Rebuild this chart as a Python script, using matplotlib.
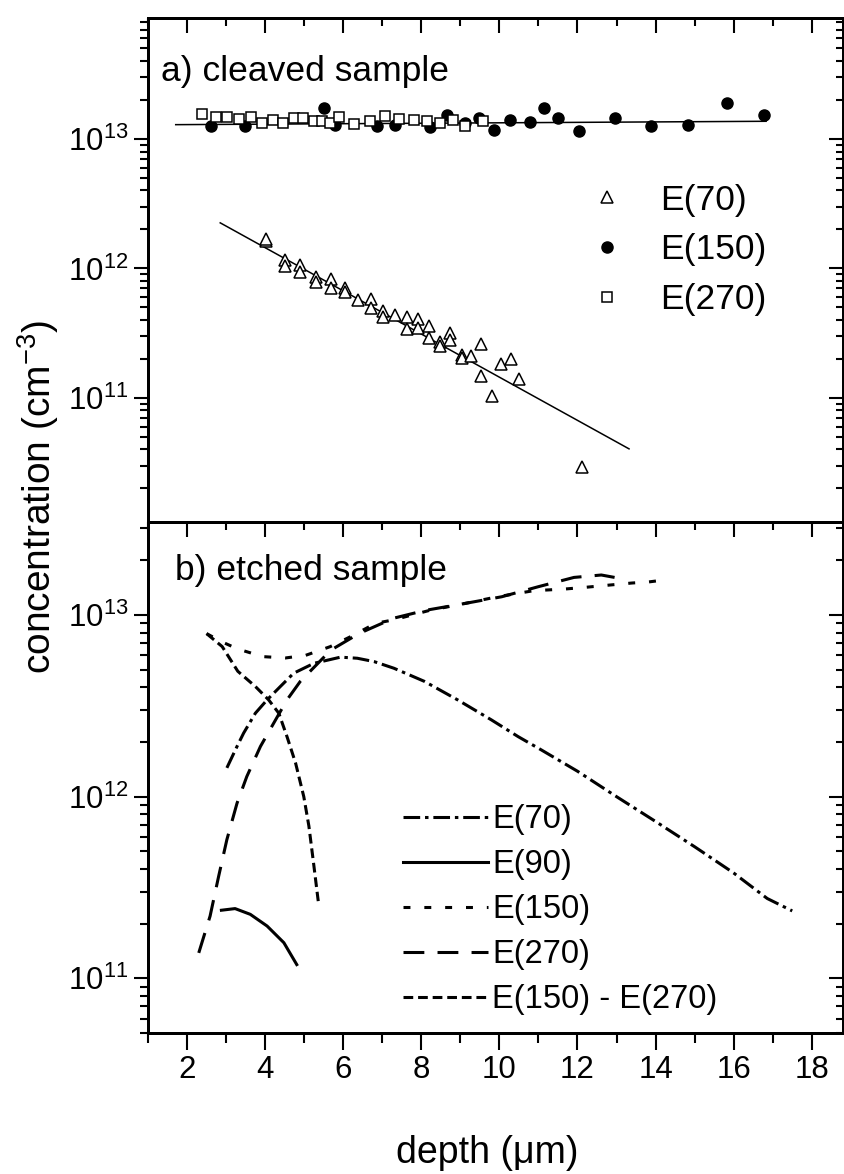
import matplotlib
matplotlib.use('Agg')
import matplotlib.pyplot as plt
import numpy as np
from matplotlib.ticker import LogLocator, NullFormatter, MultipleLocator

plt.rcParams['font.family'] = ['Liberation Sans', 'DejaVu Sans']
plt.rcParams['mathtext.fontset'] = 'custom'
plt.rcParams['mathtext.rm'] = 'Liberation Sans'
plt.rcParams['mathtext.it'] = 'Liberation Sans:italic'
plt.rcParams['lines.scale_dashes'] = False

# ---- a) cleaved sample: DLTS points ----
e70_x = [4.02, 4.02, 4.50, 4.50, 4.90, 4.90, 5.31, 5.31, 5.69, 5.69, 6.05, 6.05,
         6.39, 6.72, 6.72, 7.03, 7.03, 7.33, 7.63, 7.63, 7.91, 7.91, 8.20, 8.20,
         8.49, 8.49, 8.74, 8.74, 9.04, 9.04, 9.28, 9.54, 9.54, 9.81, 10.03, 10.29,
         10.50, 12.12]
e70_y = [1.64e12, 1.70e12, 1.17e12, 1.05e12, 1.07e12, 9.33e11, 8.6e11, 7.9e11,
         8.3e11, 7.07e11, 7.07e11, 6.6e11, 5.7e11, 5.85e11, 4.95e11, 4.67e11,
         4.22e11, 4.4e11, 4.22e11, 3.41e11, 4.07e11, 3.47e11, 3.61e11, 2.9e11,
         2.69e11, 2.5e11, 3.18e11, 2.82e11, 2.16e11, 2.04e11, 2.12e11, 2.62e11,
         1.47e11, 1.03e11, 1.83e11, 2.0e11, 1.40e11, 2.93e10]

e150_x = [2.62, 3.48, 5.51, 5.79, 6.86, 7.33, 8.21, 8.65, 9.11, 9.48, 9.87,
          10.26, 10.79, 11.13, 11.50, 12.03, 12.95, 13.89, 14.82, 15.83, 16.78]
e150_y = [1.25e13, 1.27e13, 1.73e13, 1.29e13, 1.27e13, 1.29e13, 1.23e13, 1.54e13,
          1.34e13, 1.44e13, 1.18e13, 1.41e13, 1.35e13, 1.73e13, 1.45e13, 1.15e13,
          1.45e13, 1.27e13, 1.29e13, 1.90e13, 1.54e13]

e270_x = [2.39, 2.73, 3.03, 3.34, 3.64, 3.92, 4.20, 4.47, 4.73, 4.98, 5.25, 5.45,
          5.65, 5.88, 6.28, 6.69, 7.07, 7.43, 7.80, 8.15, 8.48, 8.82, 9.13, 9.57]
e270_y = [1.56e13, 1.48e13, 1.48e13, 1.43e13, 1.48e13, 1.33e13, 1.41e13, 1.33e13,
          1.45e13, 1.44e13, 1.38e13, 1.37e13, 1.33e13, 1.48e13, 1.31e13, 1.37e13,
          1.51e13, 1.43e13, 1.39e13, 1.37e13, 1.33e13, 1.39e13, 1.25e13, 1.38e13]

# fitted lines
fit70_x = [2.85, 13.32]
fit70_y = [2.25e12, 4.04e10]
fit150_x = [1.71, 16.83]
fit150_y = [1.29e13, 1.37e13]

# ---- b) etched sample: profiles ----
b70_x = [3.02, 3.28, 3.45, 3.75, 4.05, 4.39, 4.73, 5.25, 5.93, 6.36, 6.79, 7.30,
         8.08, 8.93, 9.79, 10.48, 11.07, 12.0, 13.0, 14.0, 15.0, 16.0, 16.86, 17.5]
b70_y = [1.44e12, 1.89e12, 2.24e12, 2.88e12, 3.41e12, 4.04e12, 4.78e12, 5.42e12,
         5.86e12, 5.78e12, 5.54e12, 5.09e12, 4.31e12, 3.41e12, 2.65e12, 2.14e12,
         1.81e12, 1.38e12, 1.0e12, 7.3e11, 5.3e11, 3.8e11, 2.75e11, 2.35e11]

b90_x = [2.88, 3.23, 3.62, 4.05, 4.48, 4.81]
b90_y = [2.37e11, 2.42e11, 2.25e11, 1.94e11, 1.57e11, 1.19e11]

b150_x = [2.5, 2.9, 3.30, 3.94, 4.52, 5.04, 5.67, 6.19, 6.83, 7.29, 8.21, 9.14,
          9.95, 10.87, 11.68, 12.2, 12.8, 13.4, 13.82, 14.34]
b150_y = [7.9e12, 7.1e12, 6.5e12, 5.9e12, 5.8e12, 6.0e12, 6.7e12, 7.6e12, 9.0e12,
          9.4e12, 1.06e13, 1.16e13, 1.26e13, 1.36e13, 1.39e13, 1.42e13, 1.46e13,
          1.50e13, 1.52e13, 1.57e13]

b270_x = [2.30, 2.59, 2.81, 3.02, 3.28, 3.53, 3.88, 4.22, 4.56, 4.90, 5.68, 6.4,
          7.29, 8.10, 9.14, 10.06, 10.99, 11.91, 12.61, 12.95]
b270_y = [1.38e11, 2.2e11, 3.65e11, 5.8e11, 9.2e11, 1.29e12, 1.89e12, 2.54e12,
          3.41e12, 4.31e12, 6.4e12, 7.9e12, 9.6e12, 1.06e13, 1.16e13, 1.26e13,
          1.43e13, 1.61e13, 1.66e13, 1.61e13]

bdiff_x = [2.5, 2.90, 3.30, 3.75, 4.09, 4.35, 4.56, 4.78, 4.99, 5.12, 5.25, 5.36]
bdiff_y = [7.9e12, 6.7e12, 4.9e12, 4.04e12, 3.41e12, 2.88e12, 2.14e12, 1.53e12,
           1.0e12, 6.9e11, 4.14e11, 2.66e11]

XLIM = (1, 18.8)
YLIM_A = (1.1e10, 8.6e13)
YLIM_B = (5.0e10, 3.25e13)
W, H = 845, 1174
TICK_FS = 22.5


def log_locators(axis):
    axis.set_major_locator(LogLocator(base=10, numticks=20))
    axis.set_minor_locator(LogLocator(base=10, subs=np.arange(2, 10), numticks=20))
    axis.set_minor_formatter(NullFormatter())


def frame(ax, ylim, bottom_labels):
    ax.set_yscale('log')
    ax.set_xlim(*XLIM)
    ax.set_ylim(*ylim)
    # right side, ticks pointing in
    axr = ax.twinx()
    axr.set_yscale('log')
    axr.set_ylim(*ylim)
    log_locators(axr.yaxis)
    axr.tick_params(axis='y', which='both', direction='in', right=True,
                    labelright=False, width=1.5)
    axr.tick_params(axis='y', which='major', length=10)
    axr.tick_params(axis='y', which='minor', length=5)
    # top side, ticks pointing in
    axt = ax.twiny()
    axt.set_xlim(*XLIM)
    axt.xaxis.set_major_locator(MultipleLocator(2))
    axt.xaxis.set_minor_locator(MultipleLocator(1))
    axt.tick_params(axis='x', which='both', direction='in', top=True,
                    labeltop=False, width=1.5)
    axt.tick_params(axis='x', which='major', length=11)
    axt.tick_params(axis='x', which='minor', length=6)
    # left side, ticks pointing out
    log_locators(ax.yaxis)
    ax.tick_params(axis='y', which='both', direction='out', left=True, right=False,
                   labelsize=TICK_FS, pad=4, width=1.5)
    ax.tick_params(axis='y', which='major', length=10)
    ax.tick_params(axis='y', which='minor', length=6)
    ax.xaxis.set_major_locator(MultipleLocator(2))
    ax.xaxis.set_minor_locator(MultipleLocator(1))
    if bottom_labels:
        ax.tick_params(axis='x', which='both', direction='out', bottom=True,
                       top=False, labelsize=TICK_FS, pad=4, width=1.5)
        ax.tick_params(axis='x', which='major', length=12)
        ax.tick_params(axis='x', which='minor', length=7)
    else:
        ax.tick_params(axis='x', which='both', bottom=False, top=False,
                       labelbottom=False)
    for a in (ax, axr, axt):
        for s in a.spines.values():
            s.set_linewidth(2)


fig = plt.figure(figsize=(W / 100, H / 100), dpi=100)
left, right = 148 / W, 843 / W
ax_a = fig.add_axes([left, 1 - 522 / H, right - left, (522 - 18) / H])
ax_b = fig.add_axes([left, 1 - 1033 / H, right - left, (1033 - 522) / H])

frame(ax_a, YLIM_A, False)
frame(ax_b, YLIM_B, True)

# panel a
ax_a.plot(fit70_x, fit70_y, color='black', lw=1.1)
ax_a.plot(fit150_x, fit150_y, color='black', lw=1.1)
ax_a.plot(e70_x, e70_y, ls='none', marker='^', ms=8, mfc='white', mec='black',
          mew=1.1, label='E(70)')
ax_a.plot(e150_x, e150_y, ls='none', marker='o', ms=8, color='black', label='E(150)')
ax_a.plot(e270_x, e270_y, ls='none', marker='s', ms=6.5, mfc='white', mec='black',
          mew=1.1, label='E(270)')
handles_a = ax_a.get_lines()[2:]
ax_a.legend(handles=handles_a, loc='upper left', bbox_to_anchor=(0.635, 0.671),
            frameon=False, fontsize=25.5, handlelength=1.0, handletextpad=1.0,
            labelspacing=0.47, borderpad=0, borderaxespad=0, numpoints=1)
ax_a.text(0.0187, 0.875, 'a) cleaved sample', transform=ax_a.transAxes,
          fontsize=25.5, ha='left', va='baseline')

# panel b
lw = 2.2
ax_b.plot(b70_x, b70_y, color='black', lw=lw, ls=(0, (12, 3.5, 2.5, 3.5)), label='E(70)')
ax_b.plot(b90_x, b90_y, color='black', lw=lw, ls='-', label='E(90)')
ax_b.plot(b150_x, b150_y, color='black', lw=lw, ls=(0, (5, 10)), label='E(150)')
ax_b.plot(b270_x, b270_y, color='black', lw=lw, ls=(0, (15, 9.5)), label='E(270)')
ax_b.plot(bdiff_x, bdiff_y, color='black', lw=lw, ls=(0, (7, 3.5)),
          label='E(150) - E(270)')
ax_b.legend(loc='upper left', bbox_to_anchor=(0.367, 0.448), frameon=False,
            fontsize=23.5, handlelength=2.6, handletextpad=0.14, labelspacing=0.43,
            borderpad=0, borderaxespad=0)
ax_b.text(0.0388, 0.8865, 'b) etched sample', transform=ax_b.transAxes,
          fontsize=25.5, ha='left', va='baseline')

fig.text(38 / W, 1 - 497 / H, 'concentration (cm$^{-3}$)', rotation=90,
         fontsize=28, ha='center', va='center')
fig.text(487 / W, 1 - 1163 / H, 'depth (\u03bcm)', fontsize=27,
         ha='center', va='baseline')

fig.savefig('out.png', dpi=100)
